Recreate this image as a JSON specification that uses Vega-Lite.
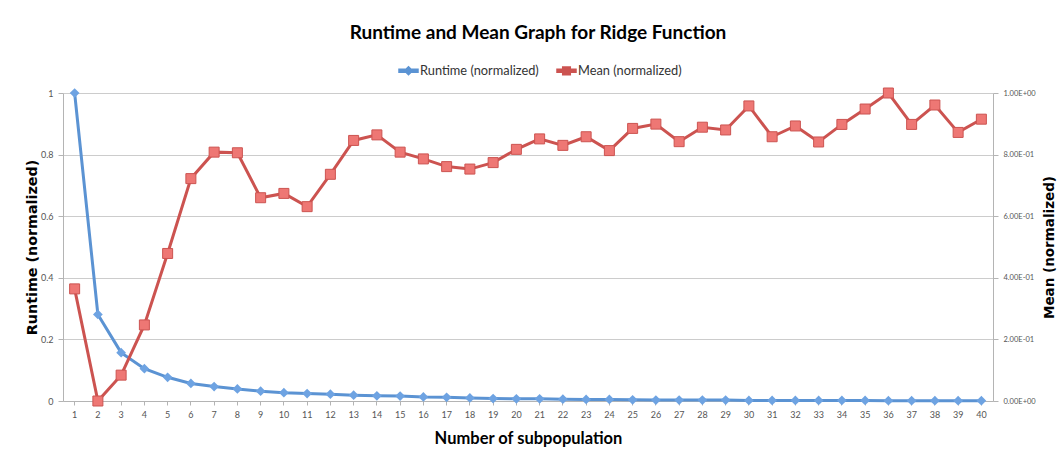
{
  "$schema": "https://vega.github.io/schema/vega-lite/v6.json",
  "autosize": "none",
  "width": 930,
  "height": 308,
  "padding": {"left": 63, "top": 93, "right": 69, "bottom": 55},
  "background": "white",
  "config": {
    "view": {"stroke": null},
    "axis": {"labelFont": "Lato", "titleFont": "Lato", "labelColor": "#555555", "labelFontSize": 9, "domainColor": "#b4b4b4", "tickColor": "#b4b4b4", "gridColor": "#cccccc", "titleColor": "#000000"}
  },
  "title": {"text": "Runtime and Mean Graph for Ridge Function", "font": "Lato", "fontSize": 19, "fontWeight": "bold", "color": "#000000", "anchor": "middle", "offset": 17, "dx": 10},
  "data": {"values": [
    {"n": 1, "runtime": 1.0, "mean": 0.364},
    {"n": 2, "runtime": 0.281, "mean": 0.0},
    {"n": 3, "runtime": 0.157, "mean": 0.084},
    {"n": 4, "runtime": 0.105, "mean": 0.247},
    {"n": 5, "runtime": 0.077, "mean": 0.479},
    {"n": 6, "runtime": 0.057, "mean": 0.722},
    {"n": 7, "runtime": 0.047, "mean": 0.808},
    {"n": 8, "runtime": 0.039, "mean": 0.806},
    {"n": 9, "runtime": 0.032, "mean": 0.66},
    {"n": 10, "runtime": 0.027, "mean": 0.674},
    {"n": 11, "runtime": 0.024, "mean": 0.631},
    {"n": 12, "runtime": 0.022, "mean": 0.736},
    {"n": 13, "runtime": 0.019, "mean": 0.846},
    {"n": 14, "runtime": 0.017, "mean": 0.864},
    {"n": 15, "runtime": 0.016, "mean": 0.808},
    {"n": 16, "runtime": 0.013, "mean": 0.786},
    {"n": 17, "runtime": 0.012, "mean": 0.761},
    {"n": 18, "runtime": 0.01, "mean": 0.753},
    {"n": 19, "runtime": 0.008, "mean": 0.774},
    {"n": 20, "runtime": 0.007, "mean": 0.817},
    {"n": 21, "runtime": 0.007, "mean": 0.851},
    {"n": 22, "runtime": 0.006, "mean": 0.83},
    {"n": 23, "runtime": 0.005, "mean": 0.858},
    {"n": 24, "runtime": 0.005, "mean": 0.813},
    {"n": 25, "runtime": 0.004, "mean": 0.885},
    {"n": 26, "runtime": 0.003, "mean": 0.899},
    {"n": 27, "runtime": 0.003, "mean": 0.842},
    {"n": 28, "runtime": 0.003, "mean": 0.889},
    {"n": 29, "runtime": 0.003, "mean": 0.88},
    {"n": 30, "runtime": 0.002, "mean": 0.958},
    {"n": 31, "runtime": 0.002, "mean": 0.858},
    {"n": 32, "runtime": 0.002, "mean": 0.893},
    {"n": 33, "runtime": 0.002, "mean": 0.841},
    {"n": 34, "runtime": 0.002, "mean": 0.898},
    {"n": 35, "runtime": 0.002, "mean": 0.948},
    {"n": 36, "runtime": 0.001, "mean": 1.0},
    {"n": 37, "runtime": 0.001, "mean": 0.898},
    {"n": 38, "runtime": 0.001, "mean": 0.961},
    {"n": 39, "runtime": 0.001, "mean": 0.872},
    {"n": 40, "runtime": 0.001, "mean": 0.915}
  ]},
  "encoding": {
    "x": {"field": "n", "type": "ordinal", "scale": {"type": "band", "paddingInner": 0, "paddingOuter": 0},
      "axis": {"title": "Number of subpopulation", "titleFontSize": 16.5, "titleFontWeight": "bold", "titlePadding": 11, "labelAngle": 0, "tickSize": 4, "grid": false, "labelPadding": 5}}
  },
  "layer": [
    {
      "encoding": {
        "y": {"field": "runtime", "type": "quantitative", "scale": {"domain": [0, 1], "nice": false},
          "axis": {"title": "Runtime (normalized)", "titleFont": "DejaVu Sans", "titleFontSize": 14.3, "titleFontWeight": "bold", "titlePadding": 1, "values": [0, 0.2, 0.4, 0.6, 0.8, 1], "labelExpr": "format(datum.value, '~g')", "tickSize": 5, "labelPadding": 5, "grid": true, "orient": "left"}},
        "color": {"datum": "Runtime (normalized)",
          "scale": {"domain": ["Runtime (normalized)", "Mean (normalized)"], "range": ["#5b93d3", "#cc5350"]},
          "legend": {"orient": "none", "direction": "horizontal", "legendX": 335, "legendY": -33, "title": null,
            "labelFont": "Lato", "labelFontSize": 12.8, "labelColor": "#333333", "symbolSize": 361, "columnPadding": 15, "labelOffset": 1,
            "encode": {"symbols": {"update": {
              "shape": {"signal": "datum.value == 'Runtime (normalized)' ? 'M-1,-0.16H1V0.16H-1Z M0,-0.42L0.42,0L0,0.42L-0.42,0Z' : 'M-1,-0.16H1V0.16H-1Z M-0.4,-0.4H0.4V0.4H-0.4Z'"},
              "fill": {"signal": "datum.value == 'Runtime (normalized)' ? '#5b93d3' : '#e0615d'"},
              "stroke": {"value": "transparent"},
              "opacity": {"value": 1}
            }}}}}
      },
      "layer": [
        {"mark": {"type": "line", "strokeWidth": 3}},
        {"mark": {"type": "point", "shape": "diamond", "filled": true, "size": 95, "opacity": 1, "fill": "#6ea3e2"}}
      ]
    },
    {
      "encoding": {
        "y": {"field": "mean", "type": "quantitative", "scale": {"domain": [0, 1], "nice": false},
          "axis": {"title": "Mean (normalized)", "titleFont": "DejaVu Sans", "titleFontSize": 13.5, "titleFontWeight": "bold", "titleAngle": 270, "titlePadding": 21, "values": [0, 0.2, 0.4, 0.6, 0.8, 1], "labelExpr": "datum.value == 0 ? '0.00E+00' : datum.value == 1 ? '1.00E+00' : format(datum.value * 10, '.2f') + 'E-01'", "labelFontSize": 7.5, "tickSize": 5, "labelPadding": 5, "grid": false, "orient": "right"}},
        "color": {"datum": "Mean (normalized)"}
      },
      "layer": [
        {"mark": {"type": "line", "strokeWidth": 3}},
        {"mark": {"type": "point", "shape": "square", "filled": true, "size": 100, "opacity": 1, "fill": "#ee7774", "stroke": "#cc5451", "strokeWidth": 1}}
      ]
    }
  ],
  "resolve": {"scale": {"y": "independent"}}
}
